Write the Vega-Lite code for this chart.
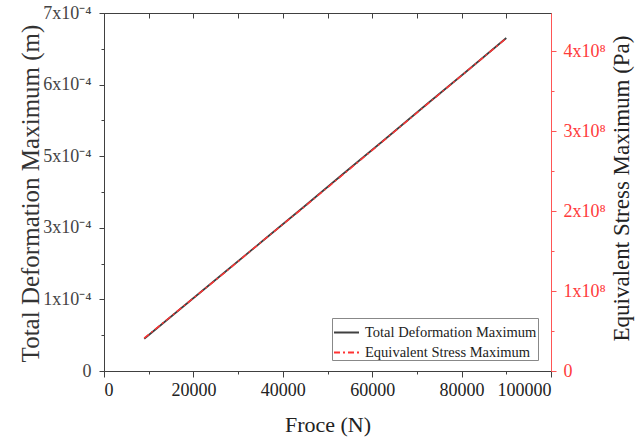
{
  "$schema": "https://vega.github.io/schema/vega-lite/v6.json",
  "width": 447,
  "height": 358,
  "autosize": {"type": "none"},
  "padding": {"left": 104, "top": 13, "right": 90, "bottom": 68},
  "background": "white",
  "config": {
    "view": {"stroke": "#404040", "strokeWidth": 1},
    "font": "Liberation Serif",
    "axis": {"grid": false, "labelFont": "Liberation Serif", "titleFont": "Liberation Serif", "titleFontWeight": "normal", "domainColor": "#404040", "tickColor": "#404040", "labelColor": "#222222", "titleColor": "#222222"},
    "legend": {"labelFont": "Liberation Serif"}
  },
  "data": {"values": [
    {"Force": 9000, "Deformation": 6.3e-5, "Stress": 4.1e7},
    {"Force": 18000, "Deformation": 1.28e-4, "Stress": 8.2e7},
    {"Force": 27000, "Deformation": 1.93e-4, "Stress": 1.23e8},
    {"Force": 36000, "Deformation": 2.58e-4, "Stress": 1.65e8},
    {"Force": 45000, "Deformation": 3.23e-4, "Stress": 2.06e8},
    {"Force": 54000, "Deformation": 3.89e-4, "Stress": 2.48e8},
    {"Force": 63000, "Deformation": 4.54e-4, "Stress": 2.9e8},
    {"Force": 72000, "Deformation": 5.2e-4, "Stress": 3.32e8},
    {"Force": 81000, "Deformation": 5.85e-4, "Stress": 3.74e8},
    {"Force": 90000, "Deformation": 6.51e-4, "Stress": 4.16e8}
  ]},
  "resolve": {"scale": {"x": "independent", "y": "independent"}, "axis": {"x": "independent", "y": "independent"}},
  "layer": [
    {
      "mark": {"type": "point", "opacity": 0},
      "encoding": {
        "x": {"field": "Force", "type": "quantitative", "scale": {"domain": [0, 100000], "nice": false}, "axis": {"orient": "top", "values": [0,10000,20000,30000,40000,50000,60000,70000,80000,90000,100000], "labels": false, "tickSize": 5, "offset": -5, "domain": false, "title": null}},
        "y": {"field": "Deformation", "type": "quantitative", "scale": {"domain": [0, 0.0007], "nice": false, "zero": false}, "axis": {"orient": "left", "values": [0.00007, 0.00021, 0.00035, 0.00049, 0.00063], "labels": false, "tickSize": 3, "domain": false, "title": null}}
      }
    },
    {
      "mark": {"type": "point", "opacity": 0},
      "encoding": {
        "x": {"field": "Force", "type": "quantitative", "scale": {"domain": [0, 100000], "nice": false}, "axis": {"orient": "bottom", "values": [10000,30000,50000,70000,90000], "labels": false, "tickSize": 3, "domain": false, "title": null}},
        "y": {"field": "Stress", "type": "quantitative", "scale": {"domain": [0, 447500000], "nice": false, "zero": false}, "axis": {"orient": "right", "values": [50000000, 150000000, 250000000, 350000000], "labels": false, "tickSize": 3, "domain": false, "tickColor": "#ff5555", "title": null}}
      }
    },
    {
      "mark": {"type": "line", "strokeWidth": 1.8},
      "encoding": {
        "x": {"field": "Force", "type": "quantitative", "scale": {"domain": [0, 100000], "nice": false}, "axis": {"orient": "bottom", "values": [0,20000,40000,60000,80000,100000], "format": "d", "tickSize": 6, "labelPadding": 4, "labelFontSize": 18, "title": "Froce (N)", "titleFontSize": 22, "titleX": 223.5, "titleY": 53, "titleBaseline": "middle", "titleAlign": "center"}},
        "y": {"field": "Deformation", "type": "quantitative", "scale": {"domain": [0, 0.0007], "nice": false, "zero": false}, "axis": {"orient": "left", "values": [0, 0.00014, 0.00028, 0.00042, 0.00056, 0.0007], "labelExpr": "datum.value < 1e-6 ? '0' : datum.value < 2e-4 ? '1x10⁻⁴' : datum.value < 3.5e-4 ? '3x10⁻⁴' : datum.value < 5e-4 ? '5x10⁻⁴' : datum.value < 6.5e-4 ? '6x10⁻⁴' : '7x10⁻⁴'", "tickSize": 5, "labelPadding": 8, "labelFontSize": 18, "labelColor": "#444444", "title": "Total Deformation Maximum (m)", "titleFontSize": 25, "titleColor": "#333333", "titleAngle": -90, "titleX": -74, "titleY": 180, "titleAlign": "center", "titleBaseline": "middle"}},
        "color": {"datum": "Total Deformation Maximum", "type": "nominal", "scale": {"domain": ["Total Deformation Maximum", "Equivalent Stress Maximum"], "range": ["#404040", "#ff3333"]}, "legend": {"title": null, "orient": "none", "legendX": 228, "legendY": 305, "symbolType": "stroke", "symbolSize": 625, "symbolStrokeWidth": 2, "labelFontSize": 14.5, "labelLimit": 400, "labelColor": "#222222", "labelOffset": 5, "rowPadding": -7, "padding": 1, "strokeColor": "#888888", "fillColor": "white", "encode": {"symbols": {"update": {"strokeDash": {"signal": "datum.value === 'Equivalent Stress Maximum' ? [6, 3, 2, 3] : [1, 0]"}}}}}}
      }
    },
    {
      "mark": {"type": "line", "strokeWidth": 1.5, "strokeDash": [6, 3, 2, 3]},
      "encoding": {
        "x": {"field": "Force", "type": "quantitative", "scale": {"domain": [0, 100000], "nice": false}, "axis": null},
        "y": {"field": "Stress", "type": "quantitative", "scale": {"domain": [0, 447500000], "nice": false, "zero": false}, "axis": {"orient": "right", "values": [0, 100000000, 200000000, 300000000, 400000000], "labelExpr": "datum.value < 1 ? '0' : format(datum.value / 1e8, 'd') + 'x10⁸'", "tickSize": 5, "labelPadding": 7, "labelFontSize": 18, "labelColor": "#ff3b3b", "domainColor": "#ff5555", "tickColor": "#ff5555", "title": "Equivalent Stress Maximum (Pa)", "titleFontSize": 23, "titleColor": "#222222", "titleAngle": -90, "titleX": 70, "titleY": 175, "titleAlign": "center", "titleBaseline": "middle"}},
        "color": {"datum": "Equivalent Stress Maximum", "type": "nominal"}
      }
    }
  ]
}
